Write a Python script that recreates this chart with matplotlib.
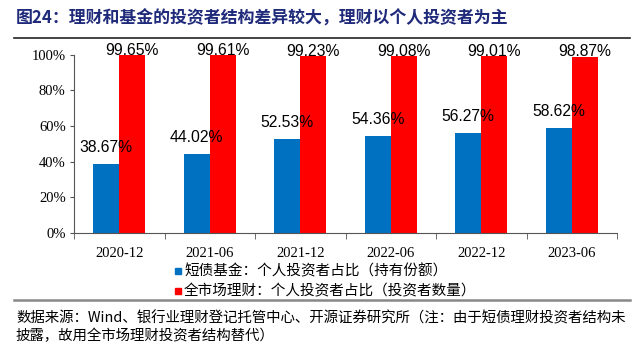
import numpy as np
import matplotlib.pyplot as plt
from matplotlib.lines import Line2D
from matplotlib.patches import Rectangle

plt.rcParams['font.family'] = ['Noto Sans CJK SC', 'DejaVu Sans']

categories = ["2020-12", "2021-06", "2021-12", "2022-06", "2022-12", "2023-06"]
fund_share = [38.67, 44.02, 52.53, 54.36, 56.27, 58.62]
wm_share = [99.65, 99.61, 99.23, 99.08, 99.01, 98.87]
y_ticks = [0, 20, 40, 60, 80, 100]
y_tick_labels = ["0%", "20%", "40%", "60%", "80%", "100%"]

BLUE = "#0070C0"
RED = "#FF0000"

fig = plt.figure(figsize=(6.37, 3.43), dpi=100)
ax = fig.add_axes([74 / 637, 1 - 233 / 343, 543 / 637, 178.5 / 343])

x = np.arange(len(categories))
w = 0.287
ax.bar(x - w / 2, fund_share, w, color=BLUE)
ax.bar(x + w / 2, wm_share, w, color=RED)

for xi, v in zip(x, fund_share):
    ax.text(xi - w / 2, v + 5, f"{v:.2f}%", ha="center", va="bottom",
            fontsize=11.3, family="Liberation Sans")
for xi, v in zip(x, wm_share):
    ax.text(xi + w / 2, v - 1.5, f"{v:.2f}%", ha="center", va="bottom",
            fontsize=11.3, family="Liberation Sans")

ax.set_xlim(-0.5, len(categories) - 0.5)
ax.set_ylim(0, 100)
ax.set_yticks(y_ticks)
ax.set_yticklabels(y_tick_labels, family="Liberation Serif", fontsize=10.5)
ax.set_xticks(x)
ax.set_xticklabels(categories, family="Liberation Serif", fontsize=10.5)
ax.set_xticks(np.arange(len(categories) + 1) - 0.5, minor=True)
ax.tick_params(axis="x", which="major", length=0, pad=10)
ax.tick_params(axis="x", which="minor", length=4, color="#555555")
ax.tick_params(axis="y", length=3, color="#555555", pad=3)
for s in ["top", "right"]:
    ax.spines[s].set_visible(False)
for s in ["left", "bottom"]:
    ax.spines[s].set_color("#555555")

# title and rules
fig.text(16 / 637, 1 - 19 / 343, "图24：理财和基金的投资者结构差异较大，理财以个人投资者为主",
         fontsize=12.2, fontweight="bold", color="#1F2A7A", va="center", ha="left")
fig.add_artist(Line2D([14 / 637, 630 / 637], [1 - 38 / 343] * 2, color="#222222", lw=1.2))
fig.add_artist(Line2D([14 / 637, 630 / 637], [1 - 300 / 343] * 2, color="#888888", lw=1.8))

# legend
for yy, col, lab in [(271, BLUE, "短债基金：个人投资者占比（持有份额）"),
                     (291, RED, "全市场理财：个人投资者占比（投资者数量）")]:
    fig.add_artist(Rectangle((175 / 637, 1 - (yy + 3) / 343), 6 / 637, 6 / 343,
                             color=col, transform=fig.transFigure))
    fig.text(184 / 637, 1 - yy / 343, lab, fontsize=10.5, va="center", ha="left")

fig.text(16 / 637, 1 - 318 / 343,
         "数据来源：Wind、银行业理财登记托管中心、开源证券研究所（注：由于短债理财投资者结构未",
         fontsize=10.4, va="center", ha="left")
fig.text(16 / 637, 1 - 336 / 343, "披露，故用全市场理财投资者结构替代）",
         fontsize=10.4, va="center", ha="left")

fig.savefig("out.png", dpi=100)
